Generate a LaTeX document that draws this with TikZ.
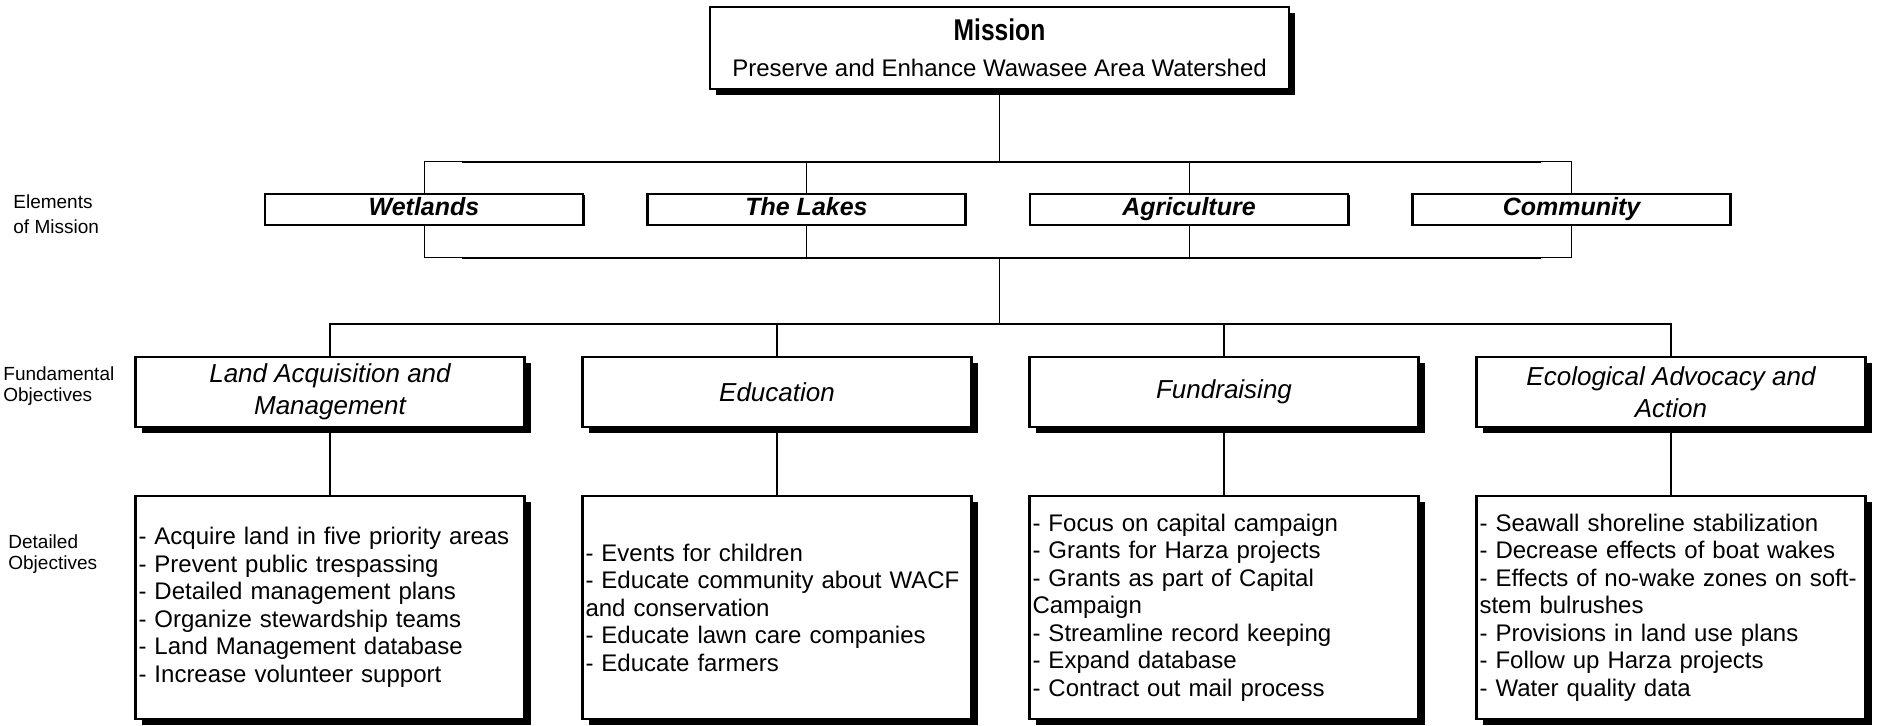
\documentclass[tikz,border=0pt]{standalone}
\usepackage{graphicx}
\usepackage{fontspec}
\setmainfont{Liberation Sans}
\usetikzlibrary{shadows}
\tikzset{
    mission/.style={
        rectangle,
        draw=black,
        fill=white,
        line width=1.25pt,
        minimum width=289.5pt,
        minimum height=41pt,
        inner sep=0pt,
        align=center,
        drop shadow={shadow xshift=3pt, shadow yshift=-3pt, fill=black, opacity=1}
    },
    element/.style={
        rectangle,
        draw=black,
        fill=white,
        line width=1.25pt,
        minimum width=159pt,
        minimum height=15.5pt,
        inner sep=0pt,
        text height=9pt,
        text depth=2.5pt,
        font=\fontsize{12.5}{15}\selectfont\bfseries\itshape,
        drop shadow={shadow xshift=0.75pt, shadow yshift=-0.75pt, fill=black, opacity=1}
    },
    fundamental/.style={
        rectangle,
        draw=black,
        fill=white,
        line width=1.25pt,
        minimum width=194.5pt,
        minimum height=35pt,
        inner sep=0pt,
        align=center,
        font=\fontsize{13}{16}\selectfont\itshape,
        drop shadow={shadow xshift=3pt, shadow yshift=-3pt, fill=black, opacity=1}
    },
    detail/.style={
        rectangle,
        draw=black,
        fill=white,
        line width=1.25pt,
        text width=191.5pt,
        minimum height=111.5pt,
        inner xsep=1.5pt,
        align=left,
        font=\fontsize{12}{13.75}\selectfont,
        drop shadow={shadow xshift=3pt, shadow yshift=-3pt, fill=black, opacity=1}
    },
    sidelabel/.style={
        anchor=west,
        inner sep=0pt,
        align=left
    },
    link/.style={
        line width=0.5pt
    },
    bus/.style={
        line width=1.25pt
    }
}

\begin{document}
\begin{tikzpicture}[x=0.5pt, y=-0.5pt]

\useasboundingbox (0,0) rectangle (1879,726);

\node (mission) [mission] at (999.5,48) {\scalebox{0.82}[1]{\fontsize{15}{15}\selectfont\bfseries Mission}\\[6pt]{\fontsize{12}{13}\selectfont Preserve and Enhance Wawasee Area Watershed}};

\node (wetlands) [element] at (424,209.5) {Wetlands};
\node (lakes) [element] at (806.5,209.5) {The Lakes};
\node (agriculture) [element] at (1189,209.5) {Agriculture};
\node (community) [element] at (1571.5,209.5) {Community};

\node (land) [fundamental] at (330,392) {Land Acquisition and\\Management};
\node (education) [fundamental] at (777,392) {Education};
\node (fundraising) [fundamental] at (1224,392) {Fundraising};
\node (advocacy) [fundamental] at (1671,392) {Ecological Advocacy and\\Action};

\node (landlist) [detail] at (330,607.5) {- Acquire land in five priority areas\\- Prevent public trespassing\\- Detailed management plans\\- Organize stewardship teams\\- Land Management database\\- Increase volunteer support};
\node (educationlist) [detail] at (777,607.5) {- Events for children\\- Educate community about WACF\\and conservation\\- Educate lawn care companies\\- Educate farmers};
\node (fundraisinglist) [detail] at (1224,607.5) {- Focus on capital campaign\\- Grants for Harza projects\\- Grants as part of Capital\\Campaign\\- Streamline record keeping\\- Expand database\\- Contract out mail process};
\node (advocacylist) [detail] at (1671,607.5) {- Seawall shoreline stabilization\\- Decrease effects of boat wakes\\- Effects of no-wake zones on soft-\\stem bulrushes\\- Provisions in land use plans\\- Follow up Harza projects\\- Water quality data};

\node (elementslabel) [sidelabel, font=\fontsize{9.5}{12.5}\selectfont] at (13,214.5) {Elements\\of Mission};
\node (fundamentallabel) [sidelabel, font=\fontsize{9.5}{10.5}\selectfont] at (3,386) {Fundamental\\Objectives};
\node (detailedlabel) [sidelabel, font=\fontsize{9.5}{10.5}\selectfont] at (8,554) {Detailed\\Objectives};

\coordinate (topbus) at (999.5,162);
\coordinate (lowbus) at (999.5,258);
\coordinate (fundbus) at (999.5,324);

\draw [link] (mission.south) -- (topbus);
\draw [link] (wetlands.north) -- (wetlands.north |- topbus) -- (community.north |- topbus) -- (community.north);
\draw [bus, shorten <=19pt, shorten >=15.5pt] (wetlands.north |- topbus) -- (community.north |- topbus);
\draw [link] (lakes.north) -- (lakes.north |- topbus);
\draw [link] (agriculture.north) -- (agriculture.north |- topbus);

\draw [link] (wetlands.south) -- (wetlands.south |- lowbus) -- (community.south |- lowbus) -- (community.south);
\draw [bus, shorten <=19pt, shorten >=15.5pt] (wetlands.south |- lowbus) -- (community.south |- lowbus);
\draw [link] (lakes.south) -- (lakes.south |- lowbus);
\draw [link] (agriculture.south) -- (agriculture.south |- lowbus);
\draw [link] (lowbus) -- (fundbus);

\draw [bus] (land.north) -- (land.north |- fundbus) -- (advocacy.north |- fundbus) -- (advocacy.north);
\draw [bus] (education.north) -- (education.north |- fundbus);
\draw [bus] (fundraising.north) -- (fundraising.north |- fundbus);

\draw [bus] (land.south) -- (landlist.north);
\draw [bus] (education.south) -- (educationlist.north);
\draw [bus] (fundraising.south) -- (fundraisinglist.north);
\draw [bus] (advocacy.south) -- (advocacylist.north);

\end{tikzpicture}
\end{document}
